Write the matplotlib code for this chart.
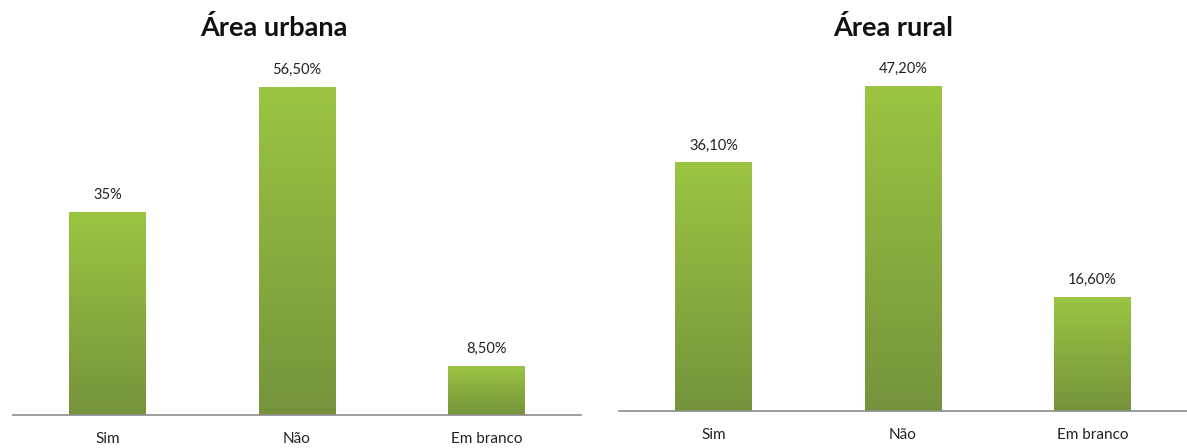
import numpy as np
import matplotlib.pyplot as plt
from matplotlib.colors import LinearSegmentedColormap

# data
categorias = ["Sim", "Não", "Em branco"]
urbana = [35.0, 56.5, 8.5]
rural = [36.1, 47.2, 16.6]
rotulos_urbana = ["35%", "56,50%", "8,50%"]
rotulos_rural = ["36,10%", "47,20%", "16,60%"]

plt.rcParams['font.family'] = ['Lato', 'DejaVu Sans']

# dark at the bottom, light at the top
grad = LinearSegmentedColormap.from_list("verde", ["#76933c", "#9bc542"])
gimg = np.linspace(0, 1, 256).reshape(-1, 1)

fig = plt.figure(figsize=(11.87, 4.48), dpi=100)

W, H = 1187.0, 448.0


def painel(rect, valores, rotulos, titulo, ytop, title_x):
    ax = fig.add_axes(rect)
    x = np.arange(len(categorias))
    bars = ax.bar(x, valores, width=0.405, facecolor='none', edgecolor='none')
    for b in bars:
        x0 = b.get_x()
        im = ax.imshow(gimg, cmap=grad, origin='lower', aspect='auto',
                       extent=(x0, x0 + b.get_width(), 0, b.get_height()),
                       interpolation='bilinear', zorder=2)
        im.set_clip_path(b)
    for xi, v, r in zip(x, valores, rotulos):
        ax.annotate(r, (xi, v), xytext=(0, 7), textcoords='offset points',
                    ha='center', va='bottom', fontsize=10.5, color='#222222')
    ax.set_xlim(-0.5, 2.5)
    ax.set_ylim(0, ytop)
    ax.set_xticks(x)
    ax.set_xticklabels(categorias, fontsize=11, color='#222222')
    ax.tick_params(axis='x', length=0, pad=12)
    ax.set_yticks([])
    for s in ['top', 'right', 'left']:
        ax.spines[s].set_visible(False)
    ax.spines['bottom'].set_color('#8c8c8c')
    ax.spines['bottom'].set_linewidth(1.2)
    fig.text(title_x / W, 1 - 27 / H, titulo, ha='center', va='center',
             fontsize=19.5, fontweight='bold', color='#111111')
    return ax


# left panel: baseline y=415, top y=60
painel([12.75 / W, 1 - 415 / H, 568.5 / W, 355 / H], urbana, rotulos_urbana,
       "Área urbana", 355 / 5.805, 274)
# right panel: baseline y=411, top y=60
painel([618.75 / W, 1 - 411 / H, 568.5 / W, 351 / H], rural, rotulos_rural,
       "Área rural", 351 / 6.886, 893)

fig.savefig("out.png", dpi=100)
